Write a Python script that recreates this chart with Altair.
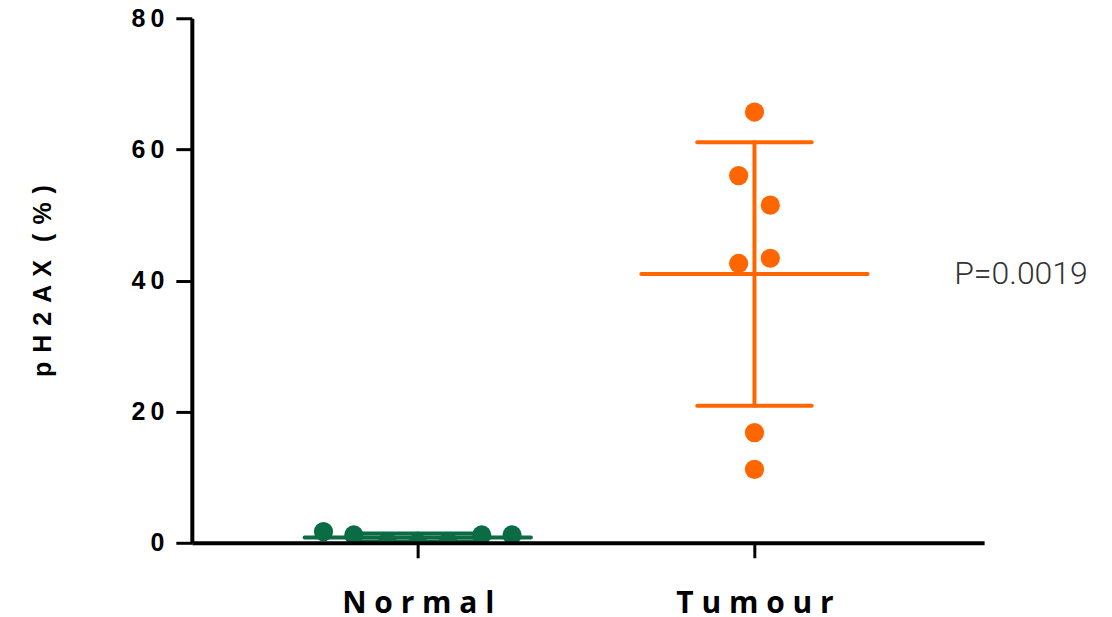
import altair as alt
import pandas as pd

# ---- data ----
groups = ["Normal", "Tumour"]
normal_values = [1.7, 1.2, 0.1, 0.0, 0.1, 1.2, 1.2]
normal_offsets = [-0.28, -0.19, -0.09, 0.0, 0.09, 0.19, 0.28]
tumour_values = [65.7, 56.0, 51.5, 43.4, 42.6, 16.8, 11.2]
tumour_offsets = [0.0, -0.047, 0.047, 0.047, -0.047, 0.0, 0.0]
group_means = [0.8, 41.0]
group_sds = [0.62, 20.1]
p_text = "P=0.0019"
y_ticks = [0, 20, 40, 60, 80]

colors = ["#0B6B45", "#FF6600"]
MEAN_HALF = 0.336
CAP_HALF = 0.17


def spaced(s, sep=" "):
    return sep.join(list(s))


pts = []
for v, o in zip(normal_values, normal_offsets):
    pts.append({"group": "Normal", "gx": 0 + o, "value": v})
for v, o in zip(tumour_values, tumour_offsets):
    pts.append({"group": "Tumour", "gx": 1 + o, "value": v})
pts = pd.DataFrame(pts)

segs = []
for i, g in enumerate(groups):
    m, s = group_means[i], group_sds[i]
    segs.append({"group": g, "x": i - MEAN_HALF, "x2": i + MEAN_HALF, "y": m, "y2": m})
    segs.append({"group": g, "x": i - CAP_HALF, "x2": i + CAP_HALF, "y": m + s, "y2": m + s})
    segs.append({"group": g, "x": i - CAP_HALF, "x2": i + CAP_HALF, "y": m - s, "y2": m - s})
    segs.append({"group": g, "x": i, "x2": i, "y": max(m - s, 0), "y2": m + s})
segs = pd.DataFrame(segs)

label_expr = "datum.value == 0 ? '%s' : '%s'" % (spaced(groups[0]), spaced(groups[1]))

xscale = alt.Scale(domain=[-0.671, 1.682], nice=False, zero=False)
yscale = alt.Scale(domain=[0, 80], nice=False)
color = alt.Color("group:N", scale=alt.Scale(domain=groups, range=colors), legend=None)

xaxis = alt.Axis(values=[0, 1], labelExpr=label_expr, title=None, grid=False, zindex=1,
                 domainColor="black", domainWidth=4, tickColor="black", tickWidth=3,
                 tickSize=15, labelFont="Open Sans", labelFontWeight="bold",
                 labelFontSize=30, labelColor="black", labelPadding=31)
yaxis = alt.Axis(values=y_ticks, title=spaced("pH2AX (%)", " \u200a"), grid=False, zindex=1,
                 labelExpr="join(split(datum.label, ''), '\u2009')",
                 domainColor="black", domainWidth=4, tickColor="black", tickWidth=3,
                 tickSize=16, labelFont="Liberation Sans", labelFontWeight="bold",
                 labelFontSize=25, labelColor="black", labelPadding=12,
                 titleFont="Liberation Sans", titleFontWeight="bold", titleFontSize=25,
                 titleColor="black", titlePadding=76)

points = alt.Chart(pts).mark_circle(size=370, opacity=1, clip=True).encode(
    x=alt.X("gx:Q", scale=xscale, axis=xaxis),
    y=alt.Y("value:Q", scale=yscale, axis=yaxis),
    color=color,
)

lines = alt.Chart(segs).mark_rule(strokeWidth=4, strokeCap="round", clip=True).encode(
    x="x:Q", x2="x2:Q", y="y:Q", y2="y2:Q", color=color,
)

ann = alt.Chart(pd.DataFrame({"t": [p_text], "y": [group_means[1]]})).mark_text(
    align="left", baseline="middle", font="Roboto", fontWeight=300, fontSize=32,
    color="#333333",
).encode(x=alt.value(763), y=alt.Y("y:Q", scale=yscale), text="t:N")

chart = alt.layer(lines, points, ann).properties(
    width=793, height=525,
    autosize=alt.AutoSizeParams(type="none"),
    padding={"left": 184, "top": 10, "right": 120, "bottom": 72},
).configure_view(stroke=None)

chart.save("out.html", embed_options={"renderer": "svg", "actions": False})
